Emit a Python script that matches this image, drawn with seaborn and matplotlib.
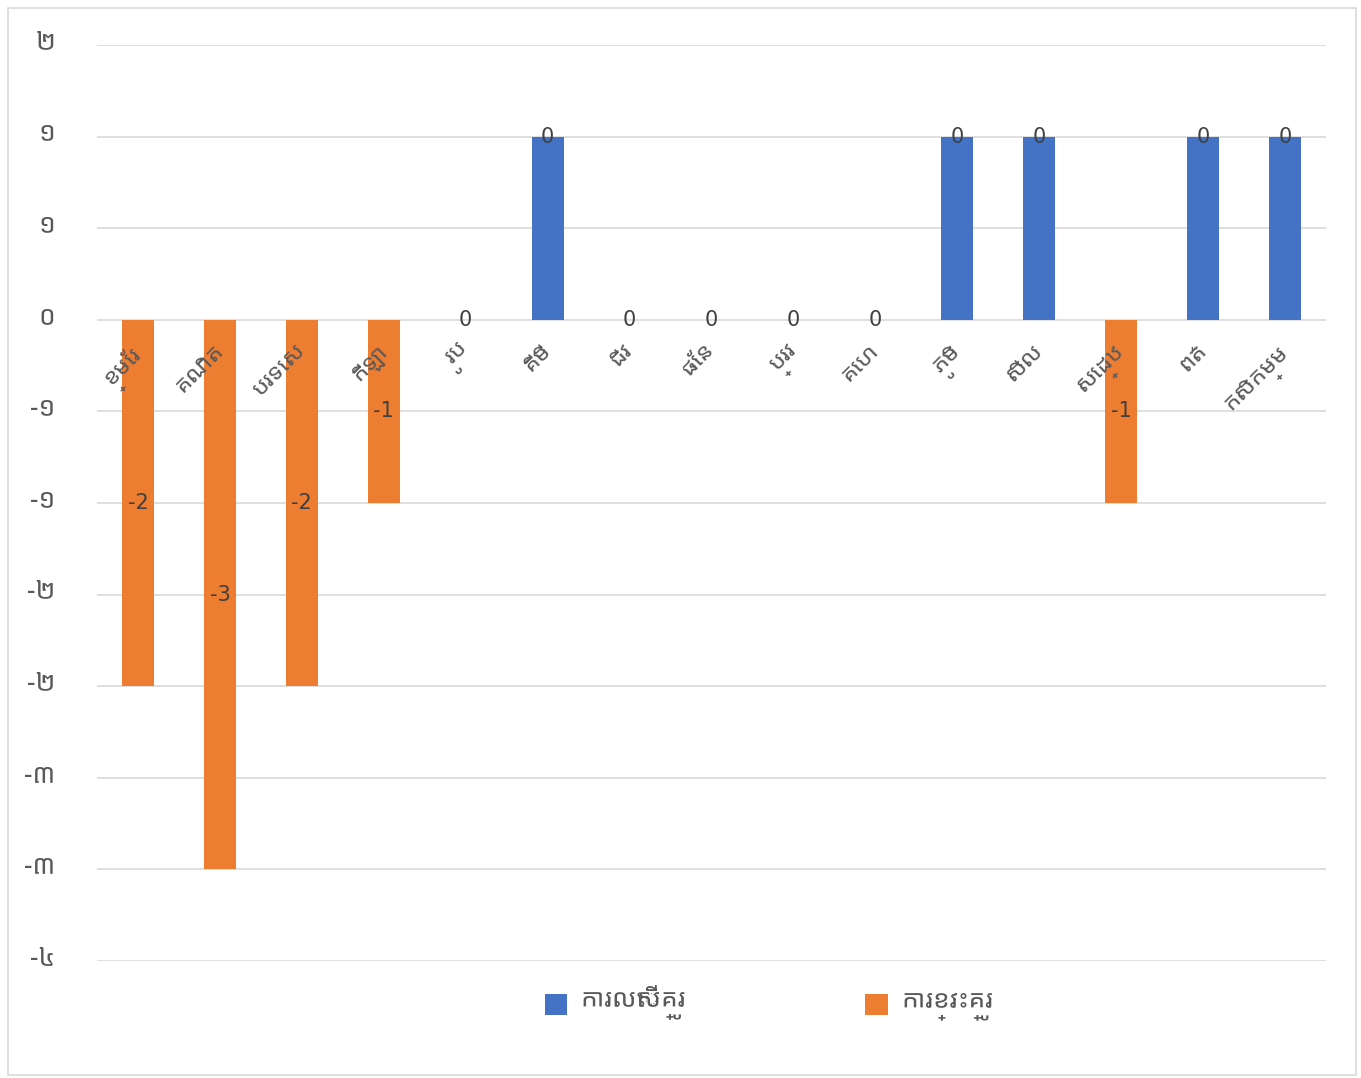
import matplotlib
matplotlib.use("Agg")
import matplotlib.pyplot as plt
import seaborn as sns
import pandas as pd
from matplotlib import font_manager as fm
from matplotlib.patches import Rectangle, Patch

categories = ["ខ្មែរ", "គណិត", "បរទេស", "កីឡា", "រូប", "គីមី", "ជីវ", "ផែន",
              "ប្រវ", "គេហ", "ភូមិ", "សីល", "សេដ្ឋ", "ពត៌", "កសិកម្ម"]
surplus = [0, 0, 0, 0, 0, 1, 0, 0, 0, 0, 1, 1, 0, 1, 1]
shortage = [-2, -3, -2, -1, 0, 0, 0, 0, 0, 0, 0, 0, -1, 0, 0]
surplus_labels = ["", "", "", "", "0", "0", "0", "0", "0", "0", "0", "0", "", "0", "0"]
shortage_labels = ["-2", "-3", "-2", "-1", "", "", "", "", "", "", "", "", "-1", "", ""]
ytick_values = [1.5, 1.0, 0.5, 0.0, -0.5, -1.0, -1.5, -2.0, -2.5, -3.0, -3.5]
ytick_labels = ["២", "១", "១", "០", "-១", "-១", "-២", "-២", "-៣", "-៣", "-៤"]
series_names = ["ការលើសគ្រូ", "ការខ្វះគ្រូ"]

BLUE = "#4472C4"
ORANGE = "#ED7D31"
GRAY = "#595959"

sns.set_theme(style="white")

installed = {f.name for f in fm.fontManager.ttflist}
khmer_font = None
for name in ["Noto Sans Khmer UI", "Noto Sans Khmer", "Kantumruy Pro", "Battambang"]:
    if name in installed:
        khmer_font = name
        break

families = ([khmer_font] if khmer_font else []) + ["DejaVu Sans"]
plt.rcParams["font.family"] = families

fig = plt.figure(figsize=(13.61, 10.78), dpi=100)
ax = fig.add_axes([97 / 1361, 1 - 961 / 1078, (1326 - 97) / 1361, (961 - 45) / 1078])

df = pd.DataFrame({"cat": categories, "surplus": surplus, "shortage": shortage})
sns.barplot(data=df, x="cat", y="surplus", order=categories, color=BLUE,
            width=0.39, linewidth=0, saturation=1, ax=ax, zorder=3)
sns.barplot(data=df, x="cat", y="shortage", order=categories, color=ORANGE,
            width=0.39, linewidth=0, saturation=1, ax=ax, zorder=3)

ax.set_xlim(-0.5, len(categories) - 0.5)
ax.set_ylim(-3.5, 1.5)
ax.set_yticks(ytick_values)
ax.set_yticklabels(ytick_labels, fontsize=19, color=GRAY, family=families)
ax.tick_params(axis="y", length=0, pad=30)
ax.set_xticks([])
ax.set_xlabel("")
ax.set_ylabel("")
for s in ax.spines.values():
    s.set_visible(False)
ax.grid(axis="y", color="#D9D9D9", linewidth=1.2, zorder=0)
ax.set_axisbelow(True)

# category labels near the zero line
for i, c in enumerate(categories):
    ax.text(i + 0.15, -0.12, c, rotation=45, ha="right", va="top",
            fontsize=17, color=GRAY, zorder=4)

# data labels
for i, (v, lab) in enumerate(zip(surplus, surplus_labels)):
    if lab:
        ax.text(i, v, lab, ha="center", va="center", fontsize=15, color="#404040",
                family="DejaVu Sans", zorder=5)
for i, (v, lab) in enumerate(zip(shortage, shortage_labels)):
    if lab:
        ax.text(i, v / 2, lab, ha="center", va="center", fontsize=15, color="#404040",
                family="DejaVu Sans", zorder=5)

handles = [Patch(facecolor=BLUE, edgecolor="none"), Patch(facecolor=ORANGE, edgecolor="none")]
fig.legend(handles, series_names, loc="center", bbox_to_anchor=(0.565, 1 - 1003 / 1078),
           ncol=2, frameon=False, fontsize=19, handlelength=0.85, handleheight=0.85,
           handletextpad=0.5, columnspacing=6.8, labelcolor=GRAY)

fig.patches.append(Rectangle((8 / 1361, 3 / 1078), 1348 / 1361, 1067 / 1078,
                             transform=fig.transFigure, fill=False,
                             edgecolor="#D9D9D9", linewidth=1.2))

fig.savefig("out.png", dpi=100)
